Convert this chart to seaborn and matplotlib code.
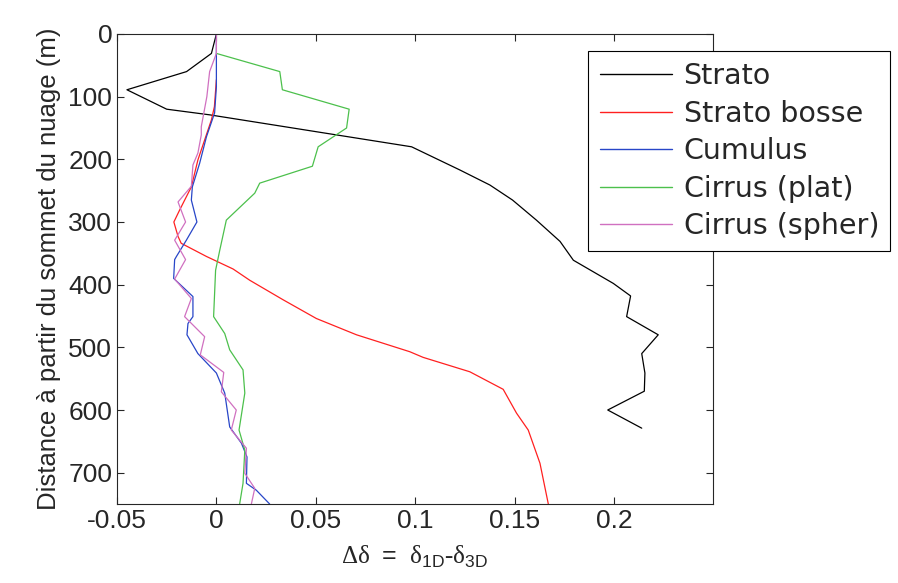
import pandas as pd
import matplotlib
matplotlib.use("Agg")
import matplotlib.pyplot as plt
import seaborn as sns

# profiles: delta (1D-3D) vs distance from cloud top (m)
strato_x = [0.0, -0.0025, -0.015, -0.045, -0.025, -0.0034, 0.0982, 0.1225, 0.1376, 0.149,
            0.161, 0.1729, 0.1796, 0.1997, 0.2084, 0.2064, 0.2223, 0.214, 0.2156, 0.2153,
            0.1969, 0.214]
strato_y = [0, 31, 60, 89, 120, 129, 180, 217, 241, 265,
            297, 331, 361, 398, 418, 451, 480, 510, 541, 570,
            600, 629]

bosse_x = [0.0, -0.001, -0.0025, -0.0059, -0.0093, -0.0126, -0.0185, -0.0214, -0.0193, -0.0177,
           -0.005, 0.0084, 0.0168, 0.0335, 0.0503, 0.0705, 0.0973, 0.104, 0.1275, 0.1443,
           0.151, 0.1569, 0.1628, 0.167]
bosse_y = [73, 116, 137, 169, 201, 244, 281, 300, 323, 334,
           355, 375, 393, 424, 454, 480, 507, 516, 539, 567,
           605, 632, 685, 750]

cumulus_x = [0.0, 0.0, 0.0, -0.0009, -0.005, -0.0084, -0.0121, -0.0126, -0.0098, -0.0151,
             -0.0201, -0.021, -0.0215, -0.0118, -0.0118, -0.0143, -0.0148, -0.0093, 0.0, 0.0042,
             0.0067, 0.0126, 0.0154, 0.0151, 0.0201, 0.0268]
cumulus_y = [0, 31, 84, 126, 164, 206, 244, 265, 300, 329,
             355, 360, 390, 419, 451, 462, 480, 510, 541, 573,
             627, 653, 675, 717, 728, 750]

plat_x = [0.0, 0.0319, 0.0332, 0.0668, 0.0655, 0.0512, 0.0483, 0.0218, 0.0193, 0.005,
          0.0017, -0.0004, -0.0014, 0.0042, 0.0067, 0.0134, 0.0143, 0.0114, 0.0143, 0.0134,
          0.0117]
plat_y = [31, 60, 89, 120, 150, 180, 211, 238, 254, 297,
          345, 377, 451, 478, 504, 536, 573, 632, 664, 717,
          750]

spher_x = [0.0, 0.0, -0.0034, -0.0048, -0.0076, -0.0076, -0.0093, -0.0118, -0.0126, -0.0193,
           -0.0155, -0.021, -0.0155, -0.021, -0.0126, -0.016, -0.0059, -0.0081, 0.0037, 0.0025,
           0.01, 0.0075, 0.0151, 0.0143, 0.0193, 0.0176]
spher_y = [0, 31, 60, 100, 148, 161, 190, 209, 243, 268,
           300, 329, 360, 391, 422, 451, 483, 512, 540, 571,
           600, 632, 661, 701, 725, 750]

labels = ["Strato", "Strato bosse", "Cumulus", "Cirrus (plat)", "Cirrus (spher)"]
colors = ["#000000", "#ff2020", "#2846c8", "#4cc04c", "#d070c0"]


def build_df():
    parts = []
    for name, xs, ys in zip(labels,
                            [strato_x, bosse_x, cumulus_x, plat_x, spher_x],
                            [strato_y, bosse_y, cumulus_y, plat_y, spher_y]):
        parts.append(pd.DataFrame({"delta": xs, "dist": ys, "type": name}))
    return pd.concat(parts, ignore_index=True)


def main():
    sns.set_style("ticks")
    plt.rcParams["font.family"] = ["Liberation Sans", "DejaVu Sans"]
    plt.rcParams["mathtext.fontset"] = "custom"
    plt.rcParams["mathtext.rm"] = "Liberation Serif"
    plt.rcParams["mathtext.sf"] = "Liberation Sans"
    plt.rcParams["xtick.direction"] = "in"
    plt.rcParams["ytick.direction"] = "in"

    df = build_df()
    fig = plt.figure(figsize=(8.98, 5.83), dpi=100)
    ax = fig.add_axes([0.1303, 0.1355, 0.664, 0.8062])
    sns.lineplot(data=df, x="delta", y="dist", hue="type", sort=False, estimator=None,
                 palette=dict(zip(labels, colors)), linewidth=0.9, ax=ax, legend=False)

    ax.set_xlim(-0.05, 0.25)
    ax.set_ylim(750, 0)
    ax.set_xticks([-0.05, 0, 0.05, 0.1, 0.15, 0.2])
    ax.set_xticklabels(["-0.05", "0", "0.05", "0.1", "0.15", "0.2"])
    ax.set_yticks(range(0, 800, 100))
    ax.tick_params(labelsize=19, top=True, right=True, length=5, width=0.8)
    for s in ax.spines.values():
        s.set_linewidth(0.8)
    ax.set_xlabel(r"$\mathrm{\Delta\delta}\ \mathsf{=}\ \mathrm{\delta}_{\mathsf{1D}}"
                  r"\text{-}\mathrm{\delta}_{\mathsf{3D}}$", fontsize=18, labelpad=8)
    ax.set_ylabel("Distance à partir du sommet du nuage (m)", fontsize=18.5, labelpad=5)

    handles = [plt.Line2D([], [], color=c, lw=1.0) for c in colors]
    leg = fig.legend(handles, labels, loc="upper left", bbox_to_anchor=(0.655, 0.9125),
                     bbox_transform=fig.transFigure, borderaxespad=0,
                     prop={"family": "DejaVu Sans", "size": 20.5},
                     fancybox=False, framealpha=1, edgecolor="black",
                     handlelength=2.55, labelspacing=0.33, borderpad=0.4, handletextpad=0.4)
    leg.get_frame().set_linewidth(0.8)

    fig.savefig("out.png", dpi=100)


if __name__ == "__main__":
    main()
